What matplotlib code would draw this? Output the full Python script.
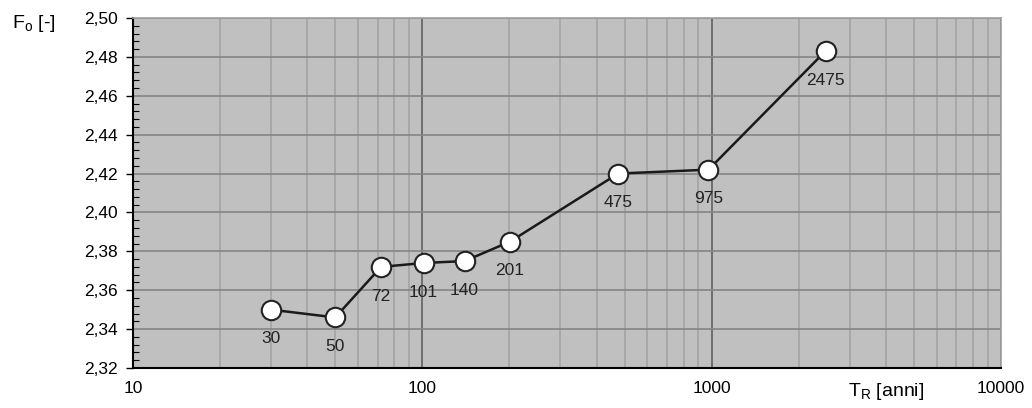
import matplotlib
matplotlib.use("Agg")
import matplotlib.pyplot as plt
from matplotlib.ticker import FixedLocator, NullFormatter, MultipleLocator, FuncFormatter

plt.rcParams['font.family'] = ['Liberation Sans', 'DejaVu Sans']

T_R = [30, 50, 72, 101, 140, 201, 475, 975, 2475]
F0 = [2.350, 2.346, 2.372, 2.374, 2.375, 2.385, 2.420, 2.422, 2.483]
labels = ["30", "50", "72", "101", "140", "201", "475", "975", "2475"]
x_ticks = [10, 100, 1000, 10000]
x_ticklabels = ["10", "100", "1000", "10000"]

fig = plt.figure(figsize=(10.32, 4.08), dpi=100)
ax = fig.add_axes([133/1032, 1-368/408, (1001-133)/1032, (368-18)/408])
ax.set_facecolor('#c0c0c0')
ax.set_xscale('log')
ax.set_xlim(10, 10000)
ax.set_ylim(2.32, 2.50)

ax.xaxis.set_major_locator(FixedLocator(x_ticks))
ax.xaxis.set_minor_locator(FixedLocator([m * d for d in (10, 100, 1000) for m in range(2, 10)]))
ax.xaxis.set_minor_formatter(NullFormatter())
ax.set_xticks(x_ticks)
ax.set_xticklabels([""] * 4)
ax.yaxis.set_major_locator(MultipleLocator(0.02))
ax.yaxis.set_minor_locator(MultipleLocator(0.004))
ax.yaxis.set_major_formatter(FuncFormatter(lambda v, p: f"{v:.2f}".replace(".", ",")))

ax.grid(which='minor', axis='x', color='#a4a4a4', lw=1.2)
ax.grid(which='major', axis='x', color='#606060', lw=1.2)
ax.grid(which='major', axis='y', color='#858585', lw=1.2)
ax.set_axisbelow(True)

for s in ('top', 'right'):
    ax.spines[s].set_color('#a0a0a0')
    ax.spines[s].set_linewidth(1.2)
for s in ('left', 'bottom'):
    ax.spines[s].set_color('black')
    ax.spines[s].set_linewidth(1.5)

ax.tick_params(axis='y', which='major', direction='out', length=5, width=1, labelsize=12.5, pad=6)
ax.tick_params(axis='y', which='minor', direction='in', length=4, width=0.8)
ax.tick_params(axis='x', which='both', length=0)
ax.tick_params(right=False, top=False)

for xv, lab in zip(x_ticks, x_ticklabels):
    ax.annotate(lab, xy=(xv, 2.32), xytext=(0, -15),
                textcoords='offset points', ha='center', va='center', fontsize=12.5)

ax.plot(T_R, F0, color='#1a1a1a', lw=1.8, marker='o', ms=14, mfc='white', mec='#222222', mew=1.5, zorder=3)
for xv, yv, lab in zip(T_R, F0, labels):
    ax.annotate(lab, xy=(xv, yv), xytext=(0, -21), textcoords='offset points',
                ha='center', va='center', fontsize=12.5, color='#222222', zorder=4)

fig.text(12/1032, 1-24/408, r"F$_\mathregular{o}$ [-]", fontsize=14, ha='left', va='center')
fig.text(848/1032, 1-392/408, r"T$_\mathregular{R}$ [anni]", fontsize=14, ha='left', va='center')

fig.savefig("out.png", dpi=100)
